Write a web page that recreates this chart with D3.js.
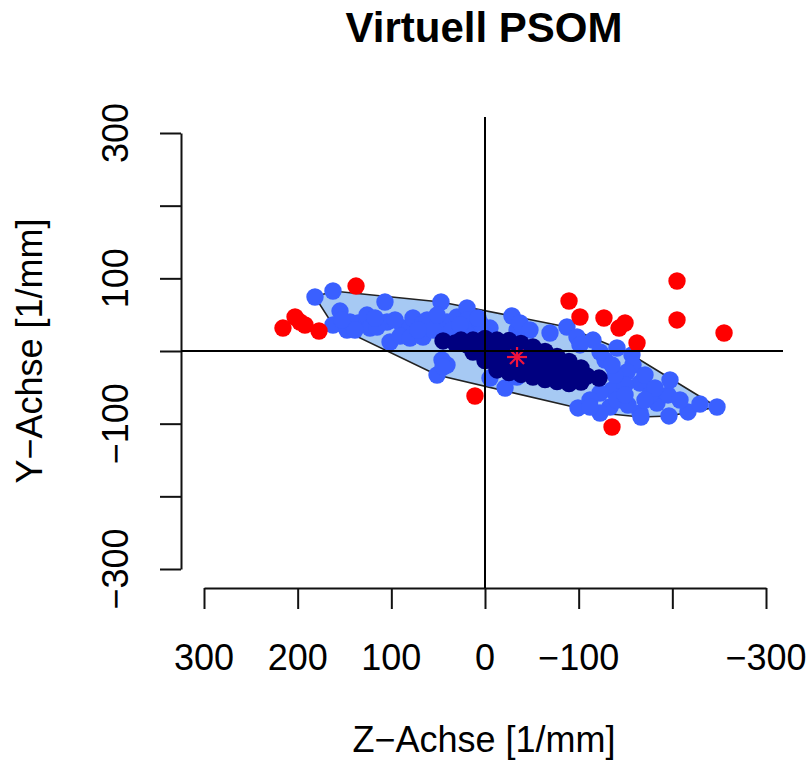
<!DOCTYPE html>
<html>
<head>
<meta charset="utf-8">
<script src="https://cdn.jsdelivr.net/npm/d3@7"></script>
<style>
  body { margin: 0; background: #fff; }
  svg { font-family: "Liberation Sans", Arial, Helvetica, sans-serif; }
</style>
</head>
<body>
<svg id="chart" width="806" height="762"></svg>
<script>
// tick positions and which ones R had room to label
const xTicks = [300, 200, 100, 0, -100, -200, -300];
const xLabels = [300, 200, 100, 0, -100, -300];
const yTicks = [300, 200, 100, 0, -100, -200, -300];
const yLabels = [300, 100, -100, -300];

// [z, y] in 1/mm
const redPts = [
  [215.7, 31.6], [202.8, 46.8], [197.5, 39.9], [192.2, 35.8], [177.2, 27.5],
  [137.7, 89.4], [-89.7, 68.8], [-101.4, 46.8], [-127.0, 45.4], [-143.1, 31.6],
  [-149.5, 38.5], [-162.3, 11.0], [-205.0, 96.3], [-205.0, 42.7], [-255.2, 24.8],
  [-135.6, -104.6], [10.7, -61.9]
];

const bluePts = [
  [181.5, 74.3], [162.3, 82.6], [154.8, 55.0], [162.3, 35.8], [147.3, 28.9],
  [135.6, 38.5], [126.0, 49.5], [122.8, 31.6], [106.8, 67.4], [104.6, 39.9],
  [101.4, 12.4], [144.1, 39.9], [115.3, 33.0], [87.5, 31.6], [90.7, 20.6],
  [80.1, 17.9], [76.9, 45.4], [66.2, 38.5], [66.2, 19.3], [61.9, 42.7],
  [47.0, 67.4], [40.6, 39.9], [29.9, 46.8], [19.2, 59.2], [19.2, 42.7],
  [16.0, 26.1], [44.8, 35.8], [55.5, 28.9], [45.9, -12.4], [40.6, -19.3],
  [51.2, -33.0], [44.8, -22.0], [5.3, 38.5], [-28.8, 48.2], [-34.2, 28.9],
  [-37.4, 38.5], [-48.0, 28.9], [-69.4, 24.8], [-87.5, 33.0], [-98.2, 19.3],
  [-115.3, 15.1], [-101.4, 8.3], [-140.9, 4.1], [-156.9, -5.5], [-158.0, -19.3],
  [-151.6, -28.9], [-165.5, -44.0], [-144.1, -63.3], [-133.5, -77.1], [-122.8, -85.3],
  [-99.3, -78.4], [-135.6, -53.7], [-165.5, -85.3], [-183.6, -71.6], [-195.4, -60.5],
  [-197.5, -39.9], [-216.7, -83.9], [-196.4, -89.4], [-166.5, -90.8], [-247.7, -77.1],
  [-122.8, -57.8], [-140.9, -67.4], [-34.2, -35.8], [-21.4, -50.9], [-5.3, -37.2],
  [-112.1, -67.4], [-149.5, -46.8], [-176.2, -60.5], [-128.1, -12.4], [-138.8, -33.0],
  [138.8, 28.9], [96.1, 42.7], [71.5, 28.9], [51.2, 49.5], [35.2, 28.9],
  [26.7, 35.8], [7.5, 45.4], [-5.3, 31.6], [-122.8, -1.4], [-135.6, -19.3],
  [-170.8, -33.0], [-181.5, -50.9], [-208.2, -67.4], [-229.5, -72.9], [-152.7, -74.3],
  [-170.8, -67.4], [-112.1, -77.1], [-149.5, -60.5], [117.4, 45.4], [152.7, 42.7]
];

const navyPts = [
  [44.8, 13.8], [32.0, 11.0], [19.2, 8.3], [6.4, 4.1], [-6.4, -1.4],
  [-19.2, -6.9], [-32.0, -8.3], [-44.8, -12.4], [-57.6, -17.9], [-70.5, -22.0],
  [-83.3, -27.5], [-96.1, -31.7], [-108.9, -34.4], [-121.7, -37.2],
  [12.8, 15.1], [0.0, 17.2], [-12.8, 15.1], [-25.6, 14.4], [-38.4, 10.3],
  [-51.2, 5.5], [-64.1, -0.7], [-76.9, -7.6], [-89.7, -14.4], [-102.5, -23.4],
  [0.0, -13.1], [-12.8, -26.1], [-25.6, -29.6], [-38.4, -32.3], [-51.2, -35.8],
  [-64.1, -39.2], [-76.9, -42.0], [-89.7, -44.7], [-102.5, -42.7],
  [-6.4, 9.6], [-19.2, 4.1], [-32.0, 1.4], [-44.8, -1.4], [-57.6, -8.3],
  [-70.5, -13.8], [-83.3, -19.3], [25.6, 15.1],
  [-6.4, -12.4], [-19.2, -17.9], [-32.0, -19.3], [-44.8, -23.4], [-57.6, -27.5],
  [-70.5, -31.7], [-83.3, -37.2], [-96.1, -39.9], [12.8, -1.4]
];

const centre = [-34.2, -8.3];

const svg = d3.select("#chart");
const plot = { left: 181, right: 783, top: 117, bottom: 588 };

const x = d3.scaleLinear().domain([300, -300]).range([204, 766]);
const y = d3.scaleLinear().domain([300, -300]).range([133, 569]);

// title
svg.append("text")
  .attr("x", 484).attr("y", 42)
  .attr("text-anchor", "middle")
  .style("font-size", "42px").style("font-weight", "bold")
  .text("Virtuell PSOM");

// axes (ticks + line, labels drawn separately)
svg.append("g")
  .attr("transform", `translate(${plot.left},0)`)
  .call(d3.axisLeft(y).tickValues(yTicks).tickSize(21).tickSizeOuter(0).tickFormat(""));
svg.append("g")
  .attr("transform", `translate(0,${plot.bottom})`)
  .call(d3.axisBottom(x).tickValues(xTicks).tickSize(21).tickSizeOuter(0).tickFormat(""));
svg.selectAll(".domain, .tick line").attr("stroke", "#111").attr("stroke-width", 2);

const fmt = d => d < 0 ? "\u2212" + Math.abs(d) : String(d);

svg.selectAll(".ylab")
  .data(yLabels)
  .join("text")
  .attr("class", "ylab")
  .attr("transform", d => `translate(128,${y(d)}) rotate(-90)`)
  .attr("text-anchor", "middle")
  .style("font-size", "36px")
  .text(fmt);

svg.selectAll(".xlab")
  .data(xLabels)
  .join("text")
  .attr("class", "xlab")
  .attr("x", d => x(d)).attr("y", 670)
  .attr("text-anchor", "middle")
  .style("font-size", "36px")
  .text(fmt);

svg.append("text")
  .attr("x", 484).attr("y", 752)
  .attr("text-anchor", "middle")
  .style("font-size", "36px")
  .text("Z\u2212Achse [1/mm]");

svg.append("text")
  .attr("transform", `translate(42,${y(0)}) rotate(-90)`)
  .attr("text-anchor", "middle")
  .style("font-size", "36px")
  .text("Y\u2212Achse [1/mm]");

// convex hull of the PSOM points
const hull = d3.polygonHull(bluePts.concat(navyPts).map(d => [x(d[0]), y(d[1])]));
svg.append("path")
  .attr("d", "M" + hull.join("L") + "Z")
  .attr("fill", "#a6c9f3")
  .attr("stroke", "#222")
  .attr("stroke-width", 1.6);

const r = 8.7;
svg.append("g").selectAll("circle")
  .data(bluePts)
  .join("circle")
  .attr("cx", d => x(d[0])).attr("cy", d => y(d[1]))
  .attr("r", r).attr("fill", "#3a60ff");

svg.append("g").selectAll("circle")
  .data(navyPts)
  .join("circle")
  .attr("cx", d => x(d[0])).attr("cy", d => y(d[1]))
  .attr("r", r).attr("fill", "#000080");

svg.append("g").selectAll("circle")
  .data(redPts)
  .join("circle")
  .attr("cx", d => x(d[0])).attr("cy", d => y(d[1]))
  .attr("r", r).attr("fill", "#ff0000");

// asterisk at the centre
const cx = x(centre[0]), cy = y(centre[1]), s = 10;
const star = svg.append("g").attr("stroke", "#f0143c").attr("stroke-width", 2.2);
[[0, s], [s, 0], [s * 0.7, s * 0.7], [s * 0.7, -s * 0.7]].forEach(([dx, dy]) => {
  star.append("line")
    .attr("x1", cx - dx).attr("y1", cy - dy)
    .attr("x2", cx + dx).attr("y2", cy + dy);
});

// zero lines
svg.append("line")
  .attr("x1", x(0)).attr("x2", x(0))
  .attr("y1", plot.top).attr("y2", plot.bottom)
  .attr("stroke", "#000").attr("stroke-width", 2);
svg.append("line")
  .attr("x1", plot.left).attr("x2", plot.right)
  .attr("y1", y(0)).attr("y2", y(0))
  .attr("stroke", "#000").attr("stroke-width", 2);
</script>
</body>
</html>
